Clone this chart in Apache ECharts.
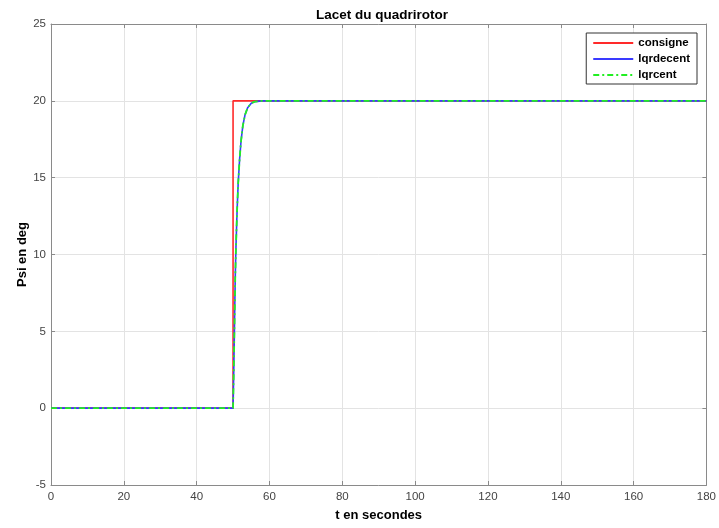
<!DOCTYPE html>
<html><head><meta charset="utf-8">
<script src="https://cdn.jsdelivr.net/npm/echarts@6/dist/echarts.min.js"></script>
<style>html,body{margin:0;padding:0;background:#fff}#c{width:719px;height:528px}</style>
</head><body><div id="c"></div>
<script>
const title = 'Lacet du quadrirotor';
const xName = 't en secondes';
const yName = 'Psi en deg';
const xTicks = [0, 20, 40, 60, 80, 100, 120, 140, 160, 180];
const yTicks = [-5, 0, 5, 10, 15, 20, 25];
const consigne = [[0,0],[50,0],[50,20],[180,20]];
const lqrdecent = [[0,0],[50,0],[50.2,2.5],[50.4,5.5],[50.6,8.5],[50.8,10.5],[51.1,12.8],[51.4,14.6],[51.8,16.2],[52.2,17.4],[52.7,18.4],[53.3,19.1],[54,19.55],[55,19.85],[56,19.95],[58,20],[180,20]];
const lqrcent = [[0,0],[50,0],[50.2,2.5],[50.4,5.5],[50.6,8.5],[50.8,10.5],[51.1,12.8],[51.4,14.6],[51.8,16.2],[52.2,17.4],[52.7,18.4],[53.3,19.1],[54,19.55],[55,19.85],[56,19.95],[58,20],[180,20]];

const chart = echarts.init(document.getElementById('c'), null, {renderer:'canvas'});
const font = 'Liberation Sans, Arial, sans-serif';
const axisCol = '#8a8a8a';
const baseX = {type:'value', min:xTicks[0], max:xTicks[xTicks.length-1], interval:20,
  axisLine:{show:true, onZero:false, lineStyle:{color:axisCol, width:1}},
  axisTick:{show:true, inside:true, length:4, lineStyle:{color:axisCol}},
  splitLine:{show:false}};
const baseY = {type:'value', min:yTicks[0], max:yTicks[yTicks.length-1], interval:5,
  axisLine:{show:true, onZero:false, lineStyle:{color:axisCol, width:1}},
  axisTick:{show:true, inside:true, length:4, lineStyle:{color:axisCol}},
  splitLine:{show:false}};
chart.setOption({
  backgroundColor:'#fff',
  animation:false,
  title:{text:title, left:377, top:3, textAlign:'center',
    textStyle:{fontFamily:font, fontSize:13.5, fontWeight:'bold', color:'#000'}},
  grid:{left:51, right:11, top:24, bottom:43, containLabel:false},
  legend:{right:22, top:33, orient:'vertical', itemWidth:40, itemHeight:10, itemGap:4,
    padding:[4,7,3,6], borderColor:'#333', borderWidth:1, backgroundColor:'#fff',
    itemStyle:{opacity:0},
    textStyle:{fontFamily:font, fontSize:11.5, fontWeight:'bold', color:'#000', padding:[0,0,0,0]},
    data:['consigne','lqrdecent','lqrcent']},
  xAxis:[
    Object.assign({}, baseX, {position:'bottom', name:xName, nameLocation:'middle', nameGap:24,
      nameMoveOverlap:false,
      nameTextStyle:{fontFamily:font, fontSize:13, fontWeight:'bold', color:'#000'},
      axisLabel:{fontFamily:font, fontSize:11.5, color:'#444', margin:6},
      splitLine:{show:true, lineStyle:{color:'#e3e3e3', width:1}}}),
    Object.assign({}, baseX, {position:'top', axisLabel:{show:false}})
  ],
  yAxis:[
    Object.assign({}, baseY, {position:'left', name:yName, nameLocation:'middle', nameGap:22,
      nameMoveOverlap:false,
      nameTextStyle:{fontFamily:font, fontSize:13, fontWeight:'bold', color:'#000'},
      axisLabel:{fontFamily:font, fontSize:11.5, color:'#444', margin:5},
      splitLine:{show:true, lineStyle:{color:'#e3e3e3', width:1}}}),
    Object.assign({}, baseY, {position:'right', axisLabel:{show:false}})
  ],
  series:[
    {name:'consigne', type:'line', data:consigne, showSymbol:false, symbol:'none',
      lineStyle:{color:'#ff2a2a', width:1.6}, itemStyle:{color:'#ff2a2a'}},
    {name:'lqrdecent', type:'line', data:lqrdecent, showSymbol:false, symbol:'none', smooth:false,
      lineStyle:{color:'#3a3aff', width:1.6}, itemStyle:{color:'#3a3aff'}},
    {name:'lqrcent', type:'line', data:lqrcent, showSymbol:false, symbol:'none', smooth:false,
      lineStyle:{color:'#22ee22', width:1.8, type:[6,3,2,3]}, itemStyle:{color:'#22ee22'}}
  ]
});
</script></body></html>
